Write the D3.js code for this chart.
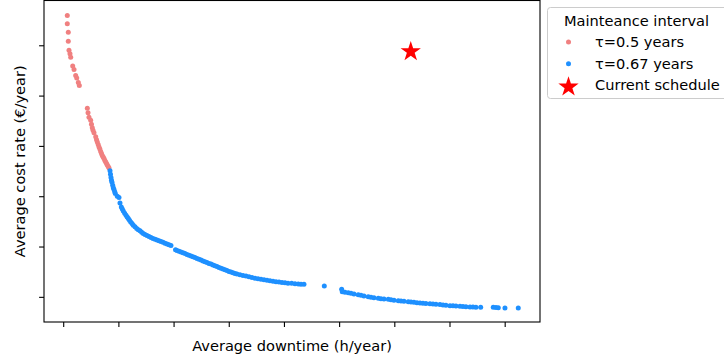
<!DOCTYPE html>
<html>
<head>
<meta charset="utf-8">
<script src="https://cdn.jsdelivr.net/npm/d3@7"></script>
<style>
  html, body { margin: 0; padding: 0; background: #fff; }
  svg { display: block; font-family: "DejaVu Sans", sans-serif; }
</style>
</head>
<body>
<div id="chart"></div>
<script>
// tau = 0.5 years
const halfYearDowntime = [0.074, 0.074, 0.092, 0.092, 0.105, 0.123, 0.136, 0.172, 0.196, 0.226, 0.245, 0.274, 0.292,
  0.437, 0.450, 0.467, 0.498, 0.512, 0.527, 0.540, 0.558, 0.589, 0.604, 0.618, 0.634, 0.649, 0.664, 0.679, 0.694,
  0.708, 0.724, 0.739, 0.755, 0.770, 0.785, 0.799, 0.815, 0.830];
const halfYearCost = [5.59, 5.43, 5.26, 5.08, 4.90, 4.83, 4.76, 4.59, 4.52, 4.40, 4.35, 4.26, 4.20,
  3.75, 3.66, 3.57, 3.51, 3.43, 3.36, 3.31, 3.26, 3.18, 3.12, 3.08, 3.03, 2.98, 2.94, 2.89, 2.85,
  2.81, 2.78, 2.75, 2.71, 2.68, 2.65, 2.62, 2.59, 2.56];

// tau = 0.67 years
const twoThirdsDowntime = [0.848, 0.857, 0.866, 0.875, 0.884, 0.897, 0.908, 0.920, 0.933, 0.944, 0.980, 1.011,
  1.029, 1.053, 1.071, 1.089, 1.114, 1.138, 1.160, 1.180, 1.201, 1.223, 1.247, 1.270, 1.301, 1.332, 1.361, 1.392,
  1.422, 1.451, 1.482, 1.518, 1.555, 1.591, 1.627, 1.664, 1.700, 1.736, 1.772, 1.808, 1.845, 1.881, 1.917, 1.953,
  2.035, 2.062, 2.098, 2.134, 2.171, 2.207, 2.243, 2.279, 2.316, 2.352, 2.388, 2.425, 2.461, 2.497, 2.533, 2.569,
  2.606, 2.642, 2.678, 2.714, 2.750, 2.787, 2.823, 2.859, 2.895, 2.932, 2.968, 3.004, 3.040, 3.077, 3.113, 3.149,
  3.203, 3.258, 3.312, 3.367, 3.421, 3.475, 3.530, 3.584, 3.639, 3.693, 3.747, 3.802, 3.856, 3.910, 3.965, 4.019,
  4.074, 4.140, 4.200, 4.260, 4.309, 4.363,
  4.731,
  5.046, 5.057, 5.106, 5.166, 5.215, 5.269, 5.347, 5.396, 5.450, 5.528, 5.577, 5.631, 5.710, 5.758, 5.813, 5.891,
  5.940, 5.994, 6.072, 6.121, 6.175, 6.253, 6.302, 6.356, 6.410, 6.465, 6.519, 6.573, 6.646, 6.700, 6.755, 6.827,
  6.882, 6.936, 7.009, 7.063, 7.117, 7.190, 7.244, 7.298, 7.371, 7.425, 7.479, 7.565, 7.793, 7.842, 7.884, 8.005,
  8.246];
const twoThirdsCost = [2.506, 2.437, 2.371, 2.317, 2.278, 2.218, 2.169, 2.133, 2.089, 2.054, 2.000, 1.974,
  1.867, 1.788, 1.748, 1.708, 1.663, 1.623, 1.589, 1.558, 1.524, 1.490, 1.458, 1.425, 1.391, 1.359, 1.335, 1.312,
  1.286, 1.260, 1.240, 1.218, 1.198, 1.179, 1.161, 1.145, 1.129, 1.115, 1.101, 1.085, 1.067, 1.052, 1.036, 1.018,
  0.938, 0.923, 0.907, 0.891, 0.875, 0.859, 0.841, 0.827, 0.812, 0.796, 0.780, 0.764, 0.748, 0.732, 0.714, 0.698,
  0.681, 0.665, 0.651, 0.635, 0.619, 0.601, 0.585, 0.569, 0.554, 0.538, 0.522, 0.506, 0.492, 0.478, 0.466, 0.452,
  0.438, 0.425, 0.413, 0.399, 0.385, 0.371, 0.361, 0.351, 0.341, 0.331, 0.321, 0.312, 0.302, 0.294, 0.286, 0.280,
  0.272, 0.268, 0.260, 0.254, 0.250, 0.248,
  0.214,
  0.149, 0.101, 0.091, 0.081, 0.069, 0.058, 0.042, 0.030, 0.018, 0.002, -0.008, -0.018, -0.030, -0.036, -0.044, -0.050,
  -0.060, -0.067, -0.077, -0.083, -0.089, -0.097, -0.101, -0.109, -0.115, -0.121, -0.127, -0.133, -0.139, -0.143, -0.149, -0.153,
  -0.161, -0.167, -0.175, -0.179, -0.183, -0.188, -0.192, -0.196, -0.202, -0.204, -0.206, -0.208, -0.208, -0.212, -0.216, -0.222,
  -0.222];

const currentSchedule = [6.298, 4.875];

// tick positions only, the reference shows no tick labels
const xTicks = [0, 1, 2, 3, 4, 5, 6, 7, 8];
const yTicks = [0, 1, 2, 3, 4, 5];

const legendItems = [
  { label: "τ=0.5 years", color: "#f08080", kind: "dot" },
  { label: "τ=0.67 years", color: "#1e90ff", kind: "dot" },
  { label: "Current schedule", color: "#ff0000", kind: "star" },
];

const width = 724, height = 362;
const margin = { left: 44, top: 0.5, right: 184, bottom: 40 };
const plotRight = width - margin.right;
const plotBottom = height - margin.bottom;
const fontSize = 14.6;

const svg = d3.select("#chart").append("svg").attr("width", width).attr("height", height);

const x = d3.scaleLinear().domain([-0.348, 8.64]).range([margin.left, plotRight]);
const y = d3.scaleLinear().domain([-0.5, 5.89]).range([plotBottom, margin.top]);

const xAxis = svg.append("g").attr("transform", `translate(0,${plotBottom})`)
  .call(d3.axisBottom(x).tickValues(xTicks).tickFormat("").tickSize(4.9).tickSizeOuter(0));
const yAxis = svg.append("g").attr("transform", `translate(${margin.left},0)`)
  .call(d3.axisLeft(y).tickValues(yTicks).tickFormat("").tickSize(4.9).tickSizeOuter(0));
[xAxis, yAxis].forEach((g) => {
  g.selectAll("path").remove();
  g.selectAll("line").attr("stroke", "#000").attr("stroke-width", 1.1);
});

svg.append("rect")
  .attr("x", margin.left).attr("y", margin.top)
  .attr("width", plotRight - margin.left).attr("height", plotBottom - margin.top)
  .attr("fill", "none").attr("stroke", "#000").attr("stroke-width", 1.1);

const halfYear = halfYearDowntime.map((d, i) => [d, halfYearCost[i]]);
const twoThirds = twoThirdsDowntime.map((d, i) => [d, twoThirdsCost[i]]);

svg.append("g").selectAll("circle").data(halfYear).enter().append("circle")
  .attr("cx", (d) => x(d[0])).attr("cy", (d) => y(d[1])).attr("r", 2.5).attr("fill", "#f08080");
svg.append("g").selectAll("circle").data(twoThirds).enter().append("circle")
  .attr("cx", (d) => x(d[0])).attr("cy", (d) => y(d[1])).attr("r", 2.5).attr("fill", "#1e90ff");

const star = d3.symbol().type(d3.symbolStar).size(128);
svg.append("path").attr("d", star)
  .attr("transform", `translate(${x(currentSchedule[0])},${y(currentSchedule[1])})`)
  .attr("fill", "#ff0000");

svg.append("text")
  .attr("x", (margin.left + plotRight) / 2).attr("y", 350.5)
  .attr("text-anchor", "middle").attr("font-size", fontSize)
  .text("Average downtime (h/year)");

svg.append("text")
  .attr("transform", `translate(25,${(margin.top + plotBottom) / 2}) rotate(-90)`)
  .attr("text-anchor", "middle").attr("font-size", fontSize)
  .text("Average cost rate (€/year)");

// legend, clipped by the right edge as in the reference
const legend = svg.append("g").attr("transform", "translate(547.5,7.5)");
legend.append("rect").attr("width", 190).attr("height", 91).attr("rx", 3)
  .attr("fill", "#fff").attr("fill-opacity", 0.8).attr("stroke", "#cccccc");
legend.append("text").attr("x", 16.5).attr("y", 18.5).attr("font-size", fontSize).text("Mainteance interval");
const rows = legend.selectAll("g.row").data(legendItems).enter().append("g")
  .attr("transform", (_, i) => `translate(0,${34.5 + i * 21.7})`);
rows.each(function (d) {
  const row = d3.select(this);
  if (d.kind === "dot") row.append("circle").attr("cx", 21).attr("cy", 0).attr("r", 2.5).attr("fill", d.color);
  else row.append("path").attr("d", star).attr("transform", "translate(21,1.5)").attr("fill", d.color);
});
rows.append("text").attr("x", 47.5).attr("y", 5).attr("font-size", fontSize).text((d) => d.label);
</script>
</body>
</html>
